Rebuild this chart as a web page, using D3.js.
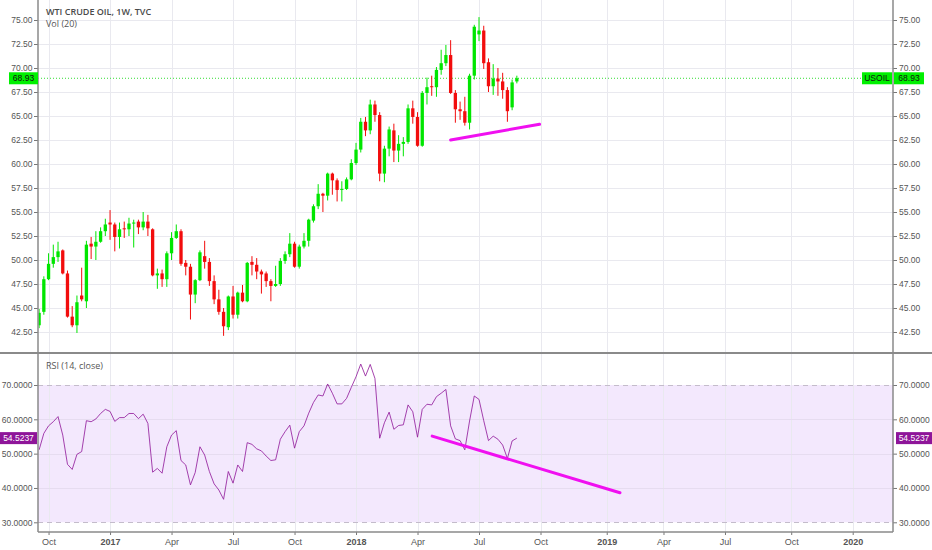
<!DOCTYPE html>
<html>
<head>
<meta charset="utf-8">
<script src="https://cdn.jsdelivr.net/npm/d3@7"></script>
<style>
    body { margin: 0; background: #fff; }
    svg { display: block; }
    text { font-family: "Open Sans", "Liberation Sans", sans-serif; }
</style>
</head>
<body>
<svg id="chart" width="932" height="550"></svg>
<script>
// weekly bars, first bar = week of 19 Sep 2016
var firstWeek = new Date(2016, 8, 19);
var opens = [43.2, 44.6, 48.0, 49.6, 50.3, 51.0, 48.6, 44.1, 43.2, 46.3,
    45.7, 51.7, 51.4, 51.9, 53.0, 53.9, 53.7, 52.4, 53.3, 53.2,
    53.8, 54.0, 53.4, 54.0, 53.2, 48.4, 48.6, 48.0, 50.7, 52.3,
    53.0, 49.7, 49.3, 46.4, 47.9, 50.4, 49.8, 47.8, 45.9, 44.6,
    43.0, 46.2, 44.3, 46.6, 45.7, 49.8, 49.5, 48.8, 48.6, 47.8,
    47.3, 47.5, 49.9, 50.6, 51.7, 49.3, 51.4, 52.0, 54.1, 55.6,
    56.9, 56.7, 59.0, 58.3, 57.3, 57.4, 58.4, 60.1, 61.5, 64.4,
    63.5, 66.2, 65.1, 59.0, 61.6, 63.5, 61.4, 62.1, 62.3, 65.8,
    64.9, 61.9, 67.4, 68.1, 68.0, 69.8, 70.5, 71.35, 67.4, 65.7,
    65.5, 64.3, 69.2, 73.5, 73.9, 70.6, 68.1, 68.9, 68.6, 67.7,
    65.9, 68.6];
var highs = [44.9, 48.3, 50.7, 51.6, 51.9, 51.1, 48.9, 45.2, 46.3, 49.2,
    52.0, 52.4, 53.0, 53.4, 54.3, 55.2, 53.9, 53.9, 54.0, 54.4,
    54.2, 54.2, 55.0, 54.7, 53.3, 49.1, 49.0, 50.9, 52.9, 53.7,
    53.2, 50.0, 49.6, 48.0, 51.0, 52.0, 50.2, 48.4, 46.9, 45.0,
    46.3, 47.3, 46.7, 47.4, 49.8, 50.4, 50.2, 49.0, 48.8, 48.0,
    49.4, 50.2, 50.9, 52.8, 51.9, 51.6, 52.8, 54.3, 55.8, 57.9,
    57.0, 59.1, 59.1, 58.5, 58.2, 58.6, 60.5, 62.2, 64.8, 64.9,
    66.7, 66.6, 65.4, 61.9, 63.9, 64.2, 63.0, 62.8, 66.2, 66.6,
    65.4, 67.6, 69.0, 69.2, 70.1, 71.9, 72.4, 72.9, 67.7, 66.5,
    67.0, 69.4, 74.5, 75.3, 74.4, 71.0, 70.4, 70.0, 69.5, 68.0,
    68.8, 69.2];
var lows = [42.9, 44.3, 47.9, 49.2, 49.8, 48.5, 44.0, 43.0, 42.4, 45.7,
    45.0, 50.1, 50.0, 51.8, 52.5, 52.1, 50.9, 51.2, 52.3, 52.5,
    51.3, 52.7, 53.1, 52.5, 48.3, 47.0, 47.2, 47.2, 50.0, 52.2,
    49.4, 48.4, 43.8, 45.5, 47.8, 49.1, 47.3, 45.4, 44.3, 42.1,
    42.7, 43.9, 43.9, 45.6, 45.6, 48.4, 48.0, 46.5, 47.2, 45.7,
    47.2, 47.3, 49.6, 50.3, 49.2, 49.1, 51.2, 51.4, 53.9, 55.3,
    55.0, 56.2, 56.8, 56.1, 56.1, 57.3, 58.3, 59.9, 61.2, 62.9,
    63.1, 64.4, 58.2, 58.1, 60.8, 60.2, 60.2, 60.8, 62.1, 64.2,
    61.8, 61.8, 66.2, 67.1, 67.0, 69.3, 70.2, 67.3, 64.3, 64.6,
    64.0, 63.6, 68.8, 72.8, 69.9, 67.5, 67.2, 67.1, 66.8, 64.4,
    65.6, 68.4];
var closes = [44.5, 48.0, 49.6, 50.3, 50.9, 48.6, 44.1, 43.2, 45.6, 45.9,
    51.6, 51.4, 51.9, 53.0, 53.7, 53.7, 52.4, 53.2, 53.2, 53.8,
    53.9, 53.4, 54.0, 53.3, 48.4, 48.6, 48.0, 50.7, 52.3, 53.0,
    49.6, 49.3, 46.4, 47.9, 50.8, 49.8, 47.8, 45.9, 44.6, 43.1,
    46.2, 44.3, 46.6, 45.7, 49.7, 49.5, 48.8, 48.5, 47.8, 47.3,
    47.5, 49.9, 50.6, 51.7, 49.3, 51.4, 52.0, 54.2, 55.6, 56.9,
    56.7, 59.0, 58.3, 57.3, 57.4, 58.4, 60.1, 61.5, 64.4, 63.5,
    66.2, 65.1, 59.0, 61.6, 63.6, 61.4, 62.1, 62.3, 65.8, 64.9,
    61.9, 67.4, 68.0, 68.0, 69.8, 70.5, 71.35, 67.4, 65.7, 65.5,
    64.3, 69.2, 74.3, 73.9, 70.5, 68.1, 68.9, 68.6, 67.7, 65.5,
    68.5, 68.93];
var rsiValues = [51.1, 55.9, 58.1, 59.3, 60.8, 55.4, 46.9, 45.4, 49.8, 50.6,
    59.6, 59.3, 60.1, 61.7, 62.9, 62.3, 59.4, 60.5, 60.5, 61.7,
    61.7, 60.2, 61.5, 58.8, 44.6, 45.7, 44.3, 52.0, 55.4, 56.7,
    48.0, 46.7, 40.9, 44.5, 52.0, 49.6, 44.8, 41.2, 39.4, 36.7,
    44.8, 41.4, 46.7, 44.8, 53.2, 52.7, 51.4, 50.8, 49.3, 48.0,
    48.2, 54.2, 56.4, 58.3, 51.6, 56.4, 58.1, 61.8, 64.9, 67.1,
    66.8, 70.3, 67.6, 64.5, 64.5, 66.1, 69.3, 72.4, 76.1, 72.6,
    76.0, 71.9, 54.5, 59.0, 62.1, 57.1, 58.2, 58.4, 64.2, 62.2,
    54.8, 62.9, 64.4, 64.2, 66.6, 67.6, 68.7, 58.1, 54.3, 53.8,
    51.1, 59.5, 66.8, 65.8, 59.6, 53.8, 55.1, 54.2, 52.5, 48.6,
    53.7, 54.5237];

var priceTicks = [42.5, 45, 47.5, 50, 52.5, 55, 57.5, 60, 62.5, 65, 67.5, 70, 72.5, 75];
var rsiTicks = [30, 40, 50, 60, 70];
var lastPrice = 68.93;
var lastRsi = 54.5237;
var symbol = "USOIL";
// drawn trend lines: [bar index, value]
var priceTrend = [[87, 62.5], [105.8, 64.14]];
var rsiTrend = [[83.1, 55.1], [122.8, 38.6]];

var upColor = "#00e600", downColor = "#f20d0d";
var rsiColor = "#8e1599", trendColor = "#f010f0";
var axisFont = "'Liberation Sans', Arial, sans-serif";

var svg = d3.select("#chart");
var left = 38, right = 893;
var priceTop = 0, priceBottom = 353, rsiTop = 354, rsiBottom = 532;

var x = d3.scaleLinear().domain([0, 172]).range([39.1, 852.7]);
var yPrice = d3.scaleLinear().domain([42.5, 75]).range([332, 20]);
var yRsi = d3.scaleLinear().domain([30, 70]).range([522.3, 385]);

// time ticks: first bar of each quarter month
function slotDate(i) { return d3.timeDay.offset(firstWeek, 7 * i); }
var timeTicks = d3.range(1, 181).filter(function (i) {
    var m = slotDate(i).getMonth();
    return m % 3 === 0 && m !== slotDate(i - 1).getMonth();
});

var defs = svg.append("defs");
defs.append("clipPath").attr("id", "clipPrice").append("rect")
    .attr("x", left + 0.5).attr("y", priceTop).attr("width", right - left - 1).attr("height", priceBottom - priceTop - 1);
defs.append("clipPath").attr("id", "clipRsi").append("rect")
    .attr("x", left + 0.5).attr("y", rsiTop).attr("width", right - left - 1).attr("height", rsiBottom - rsiTop);

// rsi band
svg.append("rect")
    .attr("x", left).attr("width", right - left)
    .attr("y", yRsi(70)).attr("height", yRsi(30) - yRsi(70))
    .attr("fill", "#f3e8fd");

// grids
var grid = svg.append("g").attr("stroke", "#e9e9ef").attr("stroke-width", 1);
grid.selectAll(".vg").data(timeTicks).enter().append("line")
    .attr("x1", function (d) { return Math.round(x(d)) + 0.5; })
    .attr("x2", function (d) { return Math.round(x(d)) + 0.5; })
    .attr("y1", priceTop).attr("y2", rsiBottom);
grid.selectAll(".hg").data(priceTicks).enter().append("line")
    .attr("x1", left).attr("x2", right)
    .attr("y1", function (d) { return Math.round(yPrice(d)) + 0.5; })
    .attr("y2", function (d) { return Math.round(yPrice(d)) + 0.5; });
grid.selectAll(".rg").data([40, 50, 60]).enter().append("line")
    .attr("x1", left).attr("x2", right)
    .attr("stroke", "#e6dcf0")
    .attr("y1", function (d) { return Math.round(yRsi(d)) + 0.5; })
    .attr("y2", function (d) { return Math.round(yRsi(d)) + 0.5; });
svg.selectAll(".band").data([30, 70]).enter().append("line")
    .attr("x1", left).attr("x2", right)
    .attr("y1", function (d) { return Math.round(yRsi(d)) + 0.5; })
    .attr("y2", function (d) { return Math.round(yRsi(d)) + 0.5; })
    .attr("stroke", "#c4bccb").attr("stroke-dasharray", "5,4");

// candles
var bars = d3.range(opens.length).map(function (i) {
    return {i: i, o: opens[i], h: highs[i], l: lows[i], c: closes[i]};
});
var bw = (x(1) - x(0)) * 0.7;
var price = svg.append("g").attr("clip-path", "url(#clipPrice)");

price.append("line")
    .attr("x1", left).attr("x2", right)
    .attr("y1", yPrice(lastPrice)).attr("y2", yPrice(lastPrice))
    .attr("stroke", "#33dd33").attr("stroke-dasharray", "1,2");

var candle = price.selectAll(".candle").data(bars).enter().append("g");
candle.append("line")
    .attr("x1", function (d) { return x(d.i); })
    .attr("x2", function (d) { return x(d.i); })
    .attr("y1", function (d) { return yPrice(d.h); })
    .attr("y2", function (d) { return yPrice(d.l); })
    .attr("stroke", function (d) { return d.c >= d.o ? upColor : downColor; })
    .attr("stroke-width", 1);
candle.append("rect")
    .attr("x", function (d) { return x(d.i) - bw / 2; })
    .attr("width", bw)
    .attr("y", function (d) { return yPrice(Math.max(d.o, d.c)); })
    .attr("height", function (d) { return Math.max(1, Math.abs(yPrice(d.o) - yPrice(d.c))); })
    .attr("fill", function (d) { return d.c >= d.o ? upColor : downColor; });

price.append("line")
    .attr("x1", x(priceTrend[0][0])).attr("y1", yPrice(priceTrend[0][1]))
    .attr("x2", x(priceTrend[1][0])).attr("y2", yPrice(priceTrend[1][1]))
    .attr("stroke", trendColor).attr("stroke-width", 3).attr("stroke-linecap", "round");

// rsi
var rsiG = svg.append("g").attr("clip-path", "url(#clipRsi)");
rsiG.append("path")
    .datum(rsiValues)
    .attr("d", d3.line().x(function (d, i) { return x(i); }).y(function (d) { return yRsi(d); }))
    .attr("fill", "none").attr("stroke", rsiColor).attr("stroke-width", 1).attr("opacity", 0.8);
rsiG.append("line")
    .attr("x1", x(rsiTrend[0][0])).attr("y1", yRsi(rsiTrend[0][1]))
    .attr("x2", x(rsiTrend[1][0])).attr("y2", yRsi(rsiTrend[1][1]))
    .attr("stroke", trendColor).attr("stroke-width", 3).attr("stroke-linecap", "round");

// axes
function styleAxis(g) {
    g.selectAll(".domain").remove();
    g.selectAll(".tick line").attr("stroke", "#777");
    g.selectAll(".tick text").attr("fill", "#555").style("font-size", "8.5px")
        .style("font-family", axisFont);
}
svg.append("g").attr("transform", "translate(" + left + ",0)")
    .call(d3.axisLeft(yPrice).tickValues(priceTicks).tickFormat(d3.format(".2f")).tickSize(4).tickPadding(1.5))
    .call(styleAxis);
svg.append("g").attr("transform", "translate(" + right + ",0)")
    .call(d3.axisRight(yPrice).tickValues(priceTicks).tickFormat(d3.format(".2f")).tickSize(4).tickPadding(2))
    .call(styleAxis);
svg.append("g").attr("transform", "translate(" + left + ",0)")
    .call(d3.axisLeft(yRsi).tickValues(rsiTicks).tickFormat(d3.format(".4f")).tickSize(4).tickPadding(1.5))
    .call(styleAxis);
svg.append("g").attr("transform", "translate(" + right + ",0)")
    .call(d3.axisRight(yRsi).tickValues(rsiTicks).tickFormat(d3.format(".4f")).tickSize(4).tickPadding(2))
    .call(styleAxis);
var xAxis = svg.append("g").attr("transform", "translate(0," + rsiBottom + ")")
    .call(d3.axisBottom(x).tickValues(timeTicks).tickSize(3).tickPadding(4)
        .tickFormat(function (i) {
            var dt = slotDate(i);
            return dt.getMonth() === 0 ? d3.timeFormat("%Y")(dt) : d3.timeFormat("%b")(dt);
        }))
    .call(styleAxis);
xAxis.selectAll(".tick text")
    .style("font-size", "9px")
    .style("font-weight", function (i) { return slotDate(i).getMonth() === 0 ? "bold" : "normal"; });

// frame
var frame = svg.append("g").attr("stroke", "#8a8a8a").attr("stroke-width", 1.5);
frame.append("line").attr("x1", left).attr("x2", left).attr("y1", 0).attr("y2", rsiBottom);
frame.append("line").attr("x1", right).attr("x2", right).attr("y1", 0).attr("y2", rsiBottom);
frame.append("line").attr("x1", 0).attr("x2", 932).attr("y1", priceBottom).attr("y2", priceBottom).attr("stroke-width", 2);
frame.append("line").attr("x1", left).attr("x2", right).attr("y1", rsiBottom).attr("y2", rsiBottom);

// last value labels
function valueBox(x0, w, yc, fill, textFill, label) {
    svg.append("rect").attr("x", x0).attr("y", yc - 6).attr("width", w).attr("height", 12).attr("fill", fill);
    svg.append("text").attr("x", x0 + w / 2).attr("y", yc + 3).attr("text-anchor", "middle")
        .attr("fill", textFill).style("font-size", "8.5px").style("font-family", axisFont).text(label);
}
valueBox(9, 29, yPrice(lastPrice), "#00f000", "#111", d3.format(".2f")(lastPrice));
valueBox(862, 30, yPrice(lastPrice), "#00f000", "#111", symbol);
valueBox(894, 30, yPrice(lastPrice), "#00f000", "#111", d3.format(".2f")(lastPrice));
valueBox(0, 37, yRsi(lastRsi), rsiColor, "#fff", d3.format(".4f")(lastRsi));
valueBox(896, 36, yRsi(lastRsi), rsiColor, "#fff", d3.format(".4f")(lastRsi));

// legends
svg.append("text").attr("x", 46).attr("y", 15).attr("fill", "#4a4a4a")
    .style("font-size", "9px").style("font-weight", 600).text("WTI CRUDE OIL, 1W, TVC");
svg.append("text").attr("x", 46).attr("y", 26.5).attr("fill", "#555")
    .style("font-size", "9px").text("Vol (20)");
svg.append("text").attr("x", 46).attr("y", 368.5).attr("fill", "#555")
    .style("font-size", "9px").text("RSI (14, close)");
</script>
</body>
</html>
